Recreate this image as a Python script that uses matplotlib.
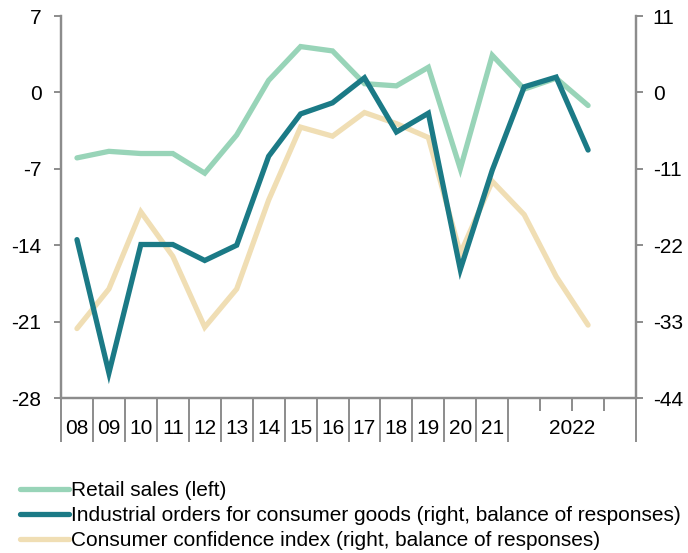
import matplotlib
matplotlib.use("Agg")
import matplotlib.pyplot as plt
import matplotlib.transforms as mtransforms

plt.rcParams['font.family'] = ['Liberation Sans', 'DejaVu Sans']

# ---- data ----
period_labels = ["08", "09", "10", "11", "12", "13", "14", "15", "16", "17",
                 "18", "19", "20", "21", "2022 Q1", "2022 Q2", "2022 Q3"]
retail_sales = [-6.0, -5.4, -5.6, -5.6, -7.4, -3.9, 1.1, 4.2, 3.8, 0.8,
                0.6, 2.3, -7.0, 3.4, 0.3, 1.3, -1.2]
industrial_orders = [-21.2, -40.4, -21.9, -21.9, -24.2, -22.0, -9.2, -3.1, -1.5, 2.1,
                     -5.7, -3.0, -25.5, -11.2, 0.8, 2.2, -8.3]
consumer_conf = [-34.0, -28.3, -17.2, -23.6, -33.8, -28.3, -15.5, -5.0, -6.3, -2.9,
                 -4.5, -6.5, -23.2, -12.8, -17.6, -26.5, -33.5]
year_labels = ["08", "09", "10", "11", "12", "13", "14", "15", "16", "17",
               "18", "19", "20", "21", "2022"]
left_ticks = [7, 0, -7, -14, -21, -28]
right_ticks = [11, 0, -11, -22, -33, -44]

c_retail = "#98D4B8"
c_ind = "#1B7A86"
c_conf = "#F0DEB4"
gray = "#8C8C8C"
FS = 15

fig = plt.figure(figsize=(6.88, 5.53), dpi=100)
ax = fig.add_axes([61/688, 1-398/553, (636-61)/688, (398-16)/553])
ax2 = ax.twinx()

x = [i + 0.5 for i in range(len(period_labels))]
l1, = ax.plot(x, retail_sales, color=c_retail, lw=3.8, solid_capstyle='round',
              solid_joinstyle='miter', label="Retail sales (left)", zorder=2)
l3, = ax2.plot(x, consumer_conf, color=c_conf, lw=3.8, solid_capstyle='round',
               solid_joinstyle='miter',
               label="Consumer confidence index (right, balance of responses)", zorder=2)
l2, = ax2.plot(x, industrial_orders, color=c_ind, lw=3.8, solid_capstyle='round',
               solid_joinstyle='miter',
               label="Industrial orders for consumer goods (right, balance of responses)", zorder=3)

ax.set_xlim(0, 18)
ax.set_ylim(-28, 7)
ax2.set_ylim(-44, 11)
ax.set_yticks(left_ticks)
ax.set_yticklabels([str(v) for v in left_ticks])
ax2.set_yticks(right_ticks)
ax2.set_yticklabels([str(v) for v in right_ticks])

for a in (ax, ax2):
    a.spines['top'].set_visible(False)
    for s in ('left', 'right', 'bottom'):
        a.spines[s].set_color(gray)
        a.spines[s].set_linewidth(1.6)
    a.set_facecolor('none')

ax.tick_params(axis='y', direction='out', length=5, width=1.4, color=gray,
               labelsize=FS, pad=9)
ax2.tick_params(axis='y', direction='out', length=5, width=1.4, color=gray,
                labelsize=FS, pad=7)

# x ticks: year boundaries long, quarter boundaries short
ax.set_xticks(list(range(0, 15)) + [18])
ax.set_xticks([15, 16, 17], minor=True)
ax.tick_params(axis='x', which='major', direction='out', length=32, width=1.4,
               color=gray, labelbottom=False)
ax.tick_params(axis='x', which='minor', direction='out', length=9.5, width=1.4,
               color=gray, labelbottom=False)
ax2.tick_params(axis='x', which='both', bottom=False, labelbottom=False)

trans = mtransforms.blended_transform_factory(ax.transData, ax.transAxes)
centers = [i + 0.5 for i in range(14)] + [16]
for cx, lab in zip(centers, year_labels):
    ax.text(cx, -31/382, lab, transform=trans, ha='center', va='center', fontsize=FS)

fig.legend(handles=[l1, l2, l3], loc='upper left', bbox_to_anchor=(20/688, 1-481/553),
           frameon=False, fontsize=FS, handlelength=2.35, handletextpad=0.1,
           labelspacing=0.29, borderpad=0, borderaxespad=0)

fig.savefig("out.png", dpi=100)
